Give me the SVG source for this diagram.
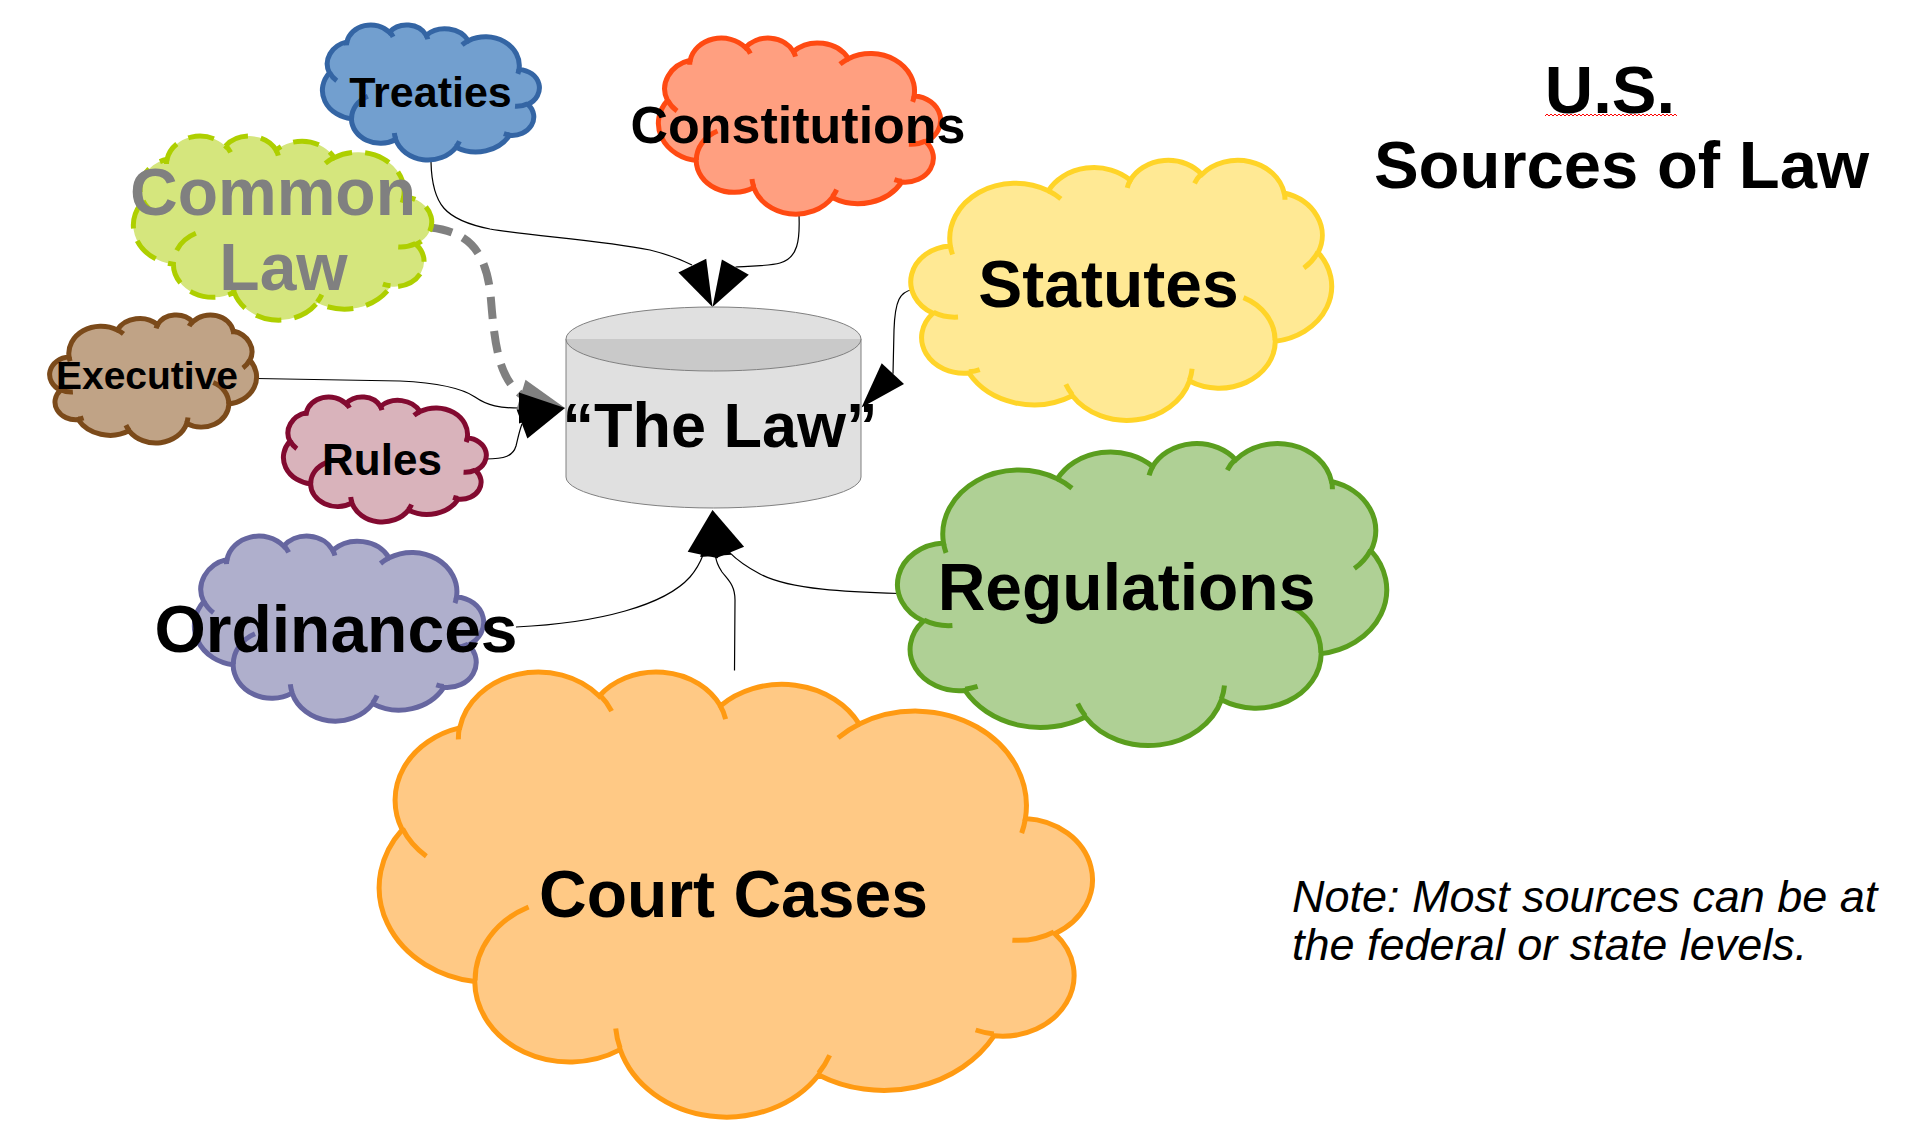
<svg xmlns="http://www.w3.org/2000/svg" width="1927" height="1143" viewBox="0 0 1927 1143">
<style>
  text { font-family: "Liberation Sans", Arial, sans-serif; }
  .lbl { font-weight: bold; fill: #000; text-anchor: middle; }
  .ln { fill: none; stroke: #000; stroke-width: 1.2; }
  .dash { fill: none; stroke: #808080; stroke-width: 8; stroke-dasharray: 22 12; }
  .ah { fill: #000; }
  .ahg { fill: #808080; }
  .cl { stroke-width: 5; }
  .treaties { fill: #729fcf; stroke: #3465a4; }
  .const { fill: #ff9f80; stroke: #ff4a12; }
  .common { fill: #d5e67d; stroke: #aecf00; stroke-dasharray: 26 13; }
  .exec { fill: #c0a386; stroke: #7b4a1a; }
  .rules { fill: #d9b3bb; stroke: #820a30; }
  .ord { fill: #afafcc; stroke: #6666a0; }
  .stat { fill: #ffe994; stroke: #ffd428; }
  .reg { fill: #afd095; stroke: #5a9e1e; }
  .court { fill: #ffc985; stroke: #ff9a12; }
</style>
<defs>
  <g id="cloud">
    <path vector-effect="non-scaling-stroke" d="M9.028,33.264 A15.632,21.273 0 0 1 32.420,12.043 A12.345,16.822 0 0 1 51.981,7.945 A10.104,13.762 0 0 1 69.060,5.741 A11.243,15.266 0 0 1 88.703,12.903 A12.345,16.836 0 0 1 96.807,35.783 A15.683,21.343 0 0 1 86.586,69.905 A13.391,18.211 0 0 1 66.104,85.206 A15.630,21.331 0 0 1 38.153,90.888 A17.870,24.405 0 0 1 13.440,82.103 A10.093,13.699 0 0 1 4.895,59.136 A10.058,13.762 0 0 1 9.028,33.264 Z"/>
    <path fill="none" vector-effect="non-scaling-stroke" d="M10.863,60.595 A10.058,13.762 0 0 1 5.001,58.750 M16.037,80.785 A10.093,13.699 0 0 1 13.469,81.669 M38.144,90.486 A15.630,21.331 0 0 1 36.596,86.452 M66.729,80.442 A15.630,21.331 0 0 1 66.112,84.860 M79.002,53.134 A13.391,18.211 0 0 1 86.529,69.651 M96.755,35.542 A12.345,16.836 0 0 1 93.403,41.735 M88.713,12.560 A11.243,15.266 0 0 1 88.890,15.485 M67.310,9.148 A11.243,15.266 0 0 1 69.026,5.418 M51.252,10.926 A10.104,13.762 0 0 1 52.083,7.710 M32.407,12.019 A15.632,21.273 0 0 1 35.414,15.138 M9.553,36.549 A15.632,21.273 0 0 1 9.029,33.267"/>
  </g>
  <pattern id="squig" x="1545" y="113" width="4" height="4" patternUnits="userSpaceOnUse">
    <path d="M0,3 L2,1 L4,3" fill="none" stroke="#ff0000" stroke-width="1"/>
  </pattern>
</defs>
<rect width="1927" height="1143" fill="#fff"/>

<g id="connectors">
  <path class="ln" d="M431,162 C432,205 445,220 490,229 C530,236 600,240 650,250 C670,255 682,260 692,265"/>
  <path class="ln" d="M799,215 C800,240 798,258 780,263 C770,266 750,266 735.5,267"/>
  <path class="ln" d="M256.5,378.5 L400,381 C440,383 462,388 475,397 C488,406 500,408 519,408"/>
  <path class="ln" d="M485.5,459 C505,459 513,456 516,446 C518,438 519,432 522,424"/>
  <path class="dash" d="M430.5,227.5 C468,232 487,250 491,300 C495,350 500,378 521,394.6"/>
  <path class="ln" d="M912.5,289.5 C900,292 895,300 894,330 L893,373.7"/>
  <path class="ln" d="M516,627 C600,623 665,605 690,577 C696,570 700,563 703,555"/>
  <path class="ln" d="M734.5,670.5 L735,600 C735,585 728,580 722,572 C718,566 716,561 715.7,556"/>
  <path class="ln" d="M899.5,593.5 C850,592 790,590 760,574 C745,566 735,558 729.7,552.6"/>
  <polygon class="ah" points="712.5,307 678.4,272.4 706.2,258.8"/>
  <polygon class="ah" points="712.5,307 748.8,274.8 721.9,259.4"/>
  <polygon class="ahg" points="565,408 525.5,379.8 516.5,409.4"/>
  <polygon class="ah" points="565,408 527.4,438.5 516.6,409.5"/>
  <polygon class="ah" points="565,408 519,392.5 519,423.5"/>
  <polygon class="ah" points="861.5,407.4 881.7,363.3 904,384"/>
  <polygon class="ah" points="712.5,510 687.7,551.8 718.1,558.2"/>
  <polygon class="ah" points="712.5,510 700.2,557 731.2,554.8"/>
  <polygon class="ah" points="712.5,510 744.1,546.8 715.3,558.4"/>
</g>

<g id="node-common-law">
  <use href="#cloud" class="cl common" transform="translate(430.5,135.5) scale(-2.97,1.84)"/>
  <text class="lbl" x="273" y="215" font-size="66" style="fill:#808080">Common</text>
  <text class="lbl" x="283.5" y="290" font-size="66" style="fill:#808080">Law</text>
</g>

<g id="node-treaties">
  <use href="#cloud" class="cl treaties" transform="translate(538.5,24.5) scale(-2.16,1.35)"/>
  <text class="lbl" x="430.5" y="107" font-size="43">Treaties</text>
</g>

<g id="node-constitutions">
  <use href="#cloud" class="cl const" transform="translate(939.5,37.5) scale(-2.81,1.76)"/>
  <text class="lbl" x="798" y="143" font-size="52">Constitutions</text>
</g>

<g id="node-executive">
  <use href="#cloud" class="cl exec" transform="translate(50.5,314.5) scale(2.06,1.28)"/>
  <text class="lbl" x="147" y="389" font-size="39">Executive</text>
</g>

<g id="node-rules">
  <use href="#cloud" class="cl rules" transform="translate(485.5,396.5) scale(-2.02,1.25)"/>
  <text class="lbl" x="382" y="475" font-size="44">Rules</text>
</g>

<g id="node-ordinances">
  <use href="#cloud" class="cl ord" transform="translate(482.5,535.5) scale(-2.88,1.85)"/>
  <text class="lbl" x="336" y="652" font-size="66">Ordinances</text>
</g>

<g id="node-statutes">
  <use href="#cloud" class="cl stat" transform="translate(912.5,159.5) scale(4.19,2.60)"/>
  <text class="lbl" x="1108.5" y="307" font-size="66">Statutes</text>
</g>

<g id="node-regulations">
  <use href="#cloud" class="cl reg" transform="translate(899.5,442.5) scale(4.87,3.02)"/>
  <text class="lbl" x="1126.5" y="610" font-size="66">Regulations</text>
</g>

<g id="node-court-cases">
  <use href="#cloud" class="cl court" transform="translate(1089.5,670.5) scale(-7.10,4.45)"/>
  <text class="lbl" x="733.5" y="917" font-size="66">Court Cases</text>
</g>

<g id="node-the-law">
  <path d="M566,339 L566,477 A147.5,31 0 0 0 861,477 L861,339 Z" fill="#e0e0e0" stroke="#808080" stroke-width="1"/>
  <ellipse cx="713.5" cy="339" rx="147.5" ry="32" fill="#e0e0e0"/>
  <path d="M566,339 A147.5,32 0 0 0 861,339 Z" fill="#c9c9c9"/>
  <ellipse cx="713.5" cy="339" rx="147.5" ry="32" fill="none" stroke="#808080" stroke-width="1"/>
  <text class="lbl" x="720" y="447" font-size="63">“The Law”</text>
</g>

<g id="title">
  <text class="lbl" x="1610" y="113" font-size="67">U.S.</text>
  <rect x="1545" y="113" width="132" height="4" fill="url(#squig)"/>
  <text class="lbl" x="1621.5" y="188" font-size="67">Sources of Law</text>
</g>

<g id="note">
  <text x="1292" y="912" font-size="45" font-style="italic" fill="#000">Note: Most sources can be at</text>
  <text x="1292" y="960" font-size="45" font-style="italic" fill="#000">the federal or state levels.</text>
</g>
</svg>
